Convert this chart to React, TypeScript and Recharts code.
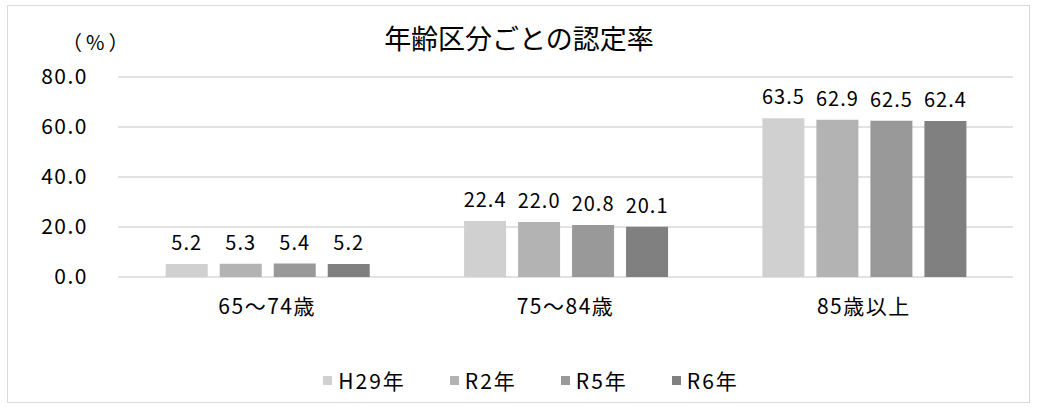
import React from "react";
import { BarChart, Bar, XAxis, YAxis, CartesianGrid, LabelList } from "recharts";

const categories = ["65～74歳", "75～84歳", "85歳以上"];
const seriesNames = ["H29年", "R2年", "R5年", "R6年"];
const h29 = [5.2, 22.4, 63.5];
const r2 = [5.3, 22.0, 62.9];
const r5 = [5.4, 20.8, 62.5];
const r6 = [5.2, 20.1, 62.4];
const yTicks = [0, 20, 40, 60, 80];
const colors = ["#d0d0d0", "#b3b3b3", "#999999", "#808080"];

const seriesValues = [h29, r2, r5, r6];
const data = categories.map((c, i) => {
  const row: Record<string, string | number> = { name: c };
  seriesNames.forEach((s, j) => {
    row[s] = seriesValues[j][i];
  });
  return row;
});

const FONT = "'Noto Sans CJK JP', 'Noto Sans', sans-serif";

export default function App() {
  return (
    <div style={{ position: "absolute", left: 0, top: 0, width: 1038, height: 407, background: "#fff", fontFamily: FONT }}>
      <div style={{ position: "absolute", left: 7, top: 5, width: 1023, height: 398, border: "1.5px solid #d9d9d9", boxSizing: "border-box" }} />
      <div style={{ position: "absolute", left: 0, top: 20, width: 1038, textAlign: "center", fontSize: 27, color: "#000", lineHeight: "36px" }}>
        年齢区分ごとの認定率
      </div>
      <div style={{ position: "absolute", left: 62, top: 30, fontSize: 20, color: "#000", lineHeight: "24px", letterSpacing: 4 }}>（%）</div>
      <BarChart
        width={1038}
        height={407}
        data={data}
        margin={{ top: 77, right: 25, bottom: 100, left: 58 }}
        barCategoryGap="16%"
        barGap={12}
      >
        <CartesianGrid vertical={false} stroke="#d9d9d9" strokeWidth={1.5} />
        <XAxis
          dataKey="name"
          height={30}
          axisLine={false}
          tickLine={false}
          tickSize={0}
          tickMargin={22}
          tick={{ fill: "#000", fontSize: 21, fontFamily: FONT, letterSpacing: 1.5 }}
        />
        <YAxis
          width={60}
          domain={[0, 80]}
          ticks={yTicks}
          axisLine={false}
          tickLine={false}
          tickSize={0}
          tickMargin={30}
          tickFormatter={(v: number) => v.toFixed(1)}
          tick={{ fill: "#000", fontSize: 21, fontFamily: FONT, letterSpacing: 1.5 }}
        />
        {seriesNames.map((s, i) => (
          <Bar key={s} dataKey={s} fill={colors[i]} isAnimationActive={false}>
            <LabelList
              dataKey={s}
              position="top"
              offset={14}
              formatter={(v: number) => v.toFixed(1)}
              style={{ fill: "#000", fontSize: 20, fontFamily: FONT, letterSpacing: 1 }}
            />
          </Bar>
        ))}
      </BarChart>
      <div style={{ position: "absolute", left: 12, top: 366, width: 1038, display: "flex", justifyContent: "center", gap: 44, fontSize: 21, lineHeight: "28px", color: "#000", letterSpacing: 2 }}>
        {seriesNames.map((s, i) => (
          <div key={s} style={{ display: "flex", alignItems: "center" }}>
            <span style={{ display: "inline-block", width: 9, height: 9, background: colors[i], marginRight: 6 }} />
            <span>{s}</span>
          </div>
        ))}
      </div>
    </div>
  );
}
